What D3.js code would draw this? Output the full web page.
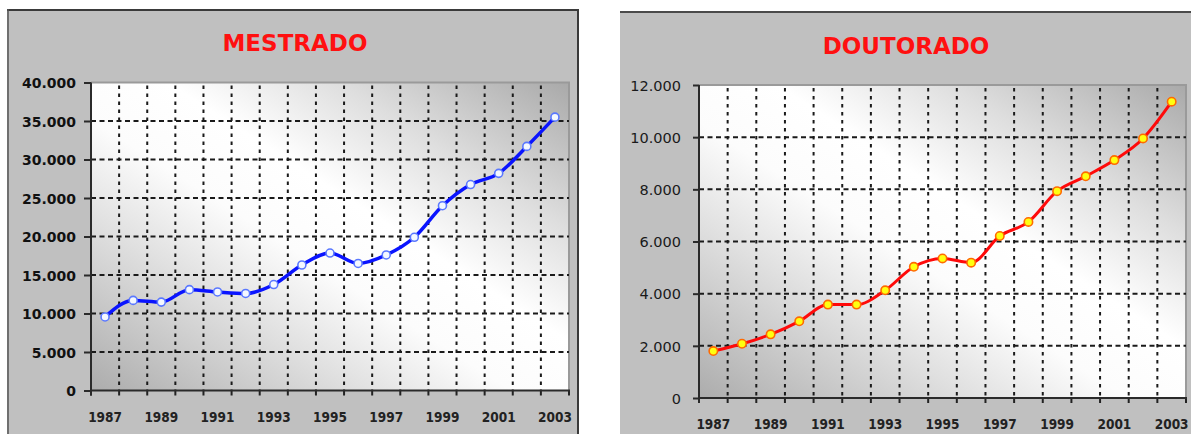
<!DOCTYPE html>
<html>
<head>
<meta charset="utf-8">
<script src="https://cdn.jsdelivr.net/npm/d3@7"></script>
<style>
  html, body { margin: 0; padding: 0; background: #ffffff; }
  svg { display: block; }
</style>
</head>
<body>
<svg id="chart" width="1191" height="434"></svg>
<script>
// ---- data ----
const years = [1987, 1988, 1989, 1990, 1991, 1992, 1993, 1994, 1995, 1996, 1997, 1998, 1999, 2000, 2001, 2002, 2003];
const yearTickLabels = [1987, 1989, 1991, 1993, 1995, 1997, 1999, 2001, 2003];
const mestradoValues = [9550, 11700, 11480, 13100, 12800, 12600, 13760, 16300, 17850, 16500, 17600, 19900, 24000, 26750, 28200, 31700, 35500];
const doutoradoValues = [1800, 2080, 2440, 2940, 3580, 3580, 4130, 5030, 5350, 5190, 6210, 6750, 7930, 8500, 9120, 9950, 11360];
const mestradoTicks = [0, 5000, 10000, 15000, 20000, 25000, 30000, 35000, 40000];
const doutoradoTicks = [0, 2000, 4000, 6000, 8000, 10000, 12000];
const titles = ["MESTRADO", "DOUTORADO"];

// ---- rendering ----
const ptBR = d3.formatLocale({ decimal: ",", thousands: ".", grouping: [3], currency: ["", ""] });
const fmt = ptBR.format(",");

const svg = d3.select("#chart");
const defs = svg.append("defs");

// panels
svg.append("rect").attr("x", 7).attr("y", 9).attr("width", 572).attr("height", 430).attr("fill", "#c0c0c0");
svg.append("line").attr("x1", 7).attr("x2", 579).attr("y1", 10).attr("y2", 10).attr("stroke", "#3a3a3a").attr("stroke-width", 2);
svg.append("line").attr("x1", 8).attr("x2", 8).attr("y1", 9).attr("y2", 434).attr("stroke", "#555").attr("stroke-width", 1.5);
svg.append("line").attr("x1", 578).attr("x2", 578).attr("y1", 9).attr("y2", 434).attr("stroke", "#3a3a3a").attr("stroke-width", 2);

svg.append("rect").attr("x", 620).attr("y", 11).attr("width", 571).attr("height", 423).attr("fill", "#c0c0c0");
svg.append("line").attr("x1", 620).attr("x2", 1191).attr("y1", 12).attr("y2", 12).attr("stroke", "#4a4a4a").attr("stroke-width", 2);

function drawChart(cfg) {
  const g = svg.append("g");
  const x = d3.scaleBand().domain(cfg.years).range([cfg.left, cfg.right]);
  const y = d3.scaleLinear().domain([0, d3.max(cfg.ticks)]).range([cfg.bottom, cfg.top]);

  // gradient background
  const gid = "grad" + cfg.id;
  const grad = defs.append("linearGradient").attr("id", gid)
    .attr("x1", 0).attr("y1", 1).attr("x2", 1).attr("y2", 0);
  [[0, "#acacac"], [0.28, "#e0e0e0"], [0.44, "#fcfcfc"], [0.58, "#ffffff"], [0.76, "#dedede"], [1, "#a9a9a9"]]
    .forEach(s => grad.append("stop").attr("offset", s[0]).attr("stop-color", s[1]));
  g.append("rect").attr("x", cfg.left).attr("y", cfg.top)
    .attr("width", cfg.right - cfg.left).attr("height", cfg.bottom - cfg.top)
    .attr("fill", `url(#${gid})`);

  // plot border (top, right)
  g.append("path")
    .attr("d", `M${cfg.left},${cfg.top}H${cfg.right}V${cfg.bottom}`)
    .attr("fill", "none").attr("stroke", "#9a9a9a").attr("stroke-width", 2);

  // horizontal dashed grid
  g.selectAll(".hg").data(cfg.ticks.filter(t => t > 0 && t < d3.max(cfg.ticks))).join("line")
    .attr("x1", cfg.left).attr("x2", cfg.right)
    .attr("y1", d => y(d)).attr("y2", d => y(d))
    .attr("stroke", "#1a1a1a").attr("stroke-width", 2).attr("stroke-dasharray", "5,3.5");

  // vertical dashed grid at category boundaries
  const bounds = cfg.years.slice(1).map(d => x(d));
  g.selectAll(".vg").data(bounds).join("line")
    .attr("x1", d => d).attr("x2", d => d)
    .attr("y1", cfg.top + 3).attr("y2", cfg.bottom)
    .attr("stroke", "#1a1a1a").attr("stroke-width", 2).attr("stroke-dasharray", "3.5,4.5");

  // x axis ticks below axis
  g.selectAll(".xt").data(cfg.years.map(d => x(d)).concat([cfg.right])).join("line")
    .attr("x1", d => d).attr("x2", d => d)
    .attr("y1", cfg.bottom).attr("y2", cfg.bottom + 5)
    .attr("stroke", "#222").attr("stroke-width", 2);

  // axes lines
  g.append("line").attr("x1", cfg.left).attr("x2", cfg.right + 1)
    .attr("y1", cfg.bottom).attr("y2", cfg.bottom)
    .attr("stroke", "#2a2a2a").attr("stroke-width", 2);
  g.append("line").attr("x1", cfg.left).attr("x2", cfg.left)
    .attr("y1", cfg.top).attr("y2", cfg.bottom + 5)
    .attr("stroke", "#2a2a2a").attr("stroke-width", 2);

  // y axis ticks + labels
  const yAxis = d3.axisLeft(y).tickValues(cfg.ticks).tickFormat(fmt)
    .tickSize(cfg.tickLen).tickPadding(cfg.tickPad);
  const ya = g.append("g").attr("transform", `translate(${cfg.left},0)`).call(yAxis);
  ya.select(".domain").remove();
  ya.selectAll(".tick line").attr("stroke", "#2a2a2a").attr("stroke-width", 2);
  ya.selectAll(".tick text")
    .attr("font-family", "DejaVu Sans, Verdana, sans-serif")
    .attr("font-size", cfg.yFontSize).attr("font-weight", cfg.yFontWeight)
    .attr("fill", cfg.yColor).attr("dy", "0.36em");

  // x labels
  const xAxis = d3.axisBottom(x).tickValues(yearTickLabels).tickSize(0).tickPadding(cfg.xPad);
  const xa = g.append("g").attr("transform", `translate(0,${cfg.bottom})`).call(xAxis);
  xa.select(".domain").remove();
  xa.selectAll(".tick text")
    .attr("font-family", "Liberation Sans Narrow, Arial Narrow, DejaVu Sans Condensed, sans-serif")
    .attr("font-size", 13.5).attr("font-weight", "bold").attr("fill", "#222");

  // line
  const cx = d => x(d) + x.bandwidth() / 2;
  const line = d3.line().x((d, i) => cx(cfg.years[i])).y(d => y(d)).curve(d3.curveMonotoneX);
  g.append("path").datum(cfg.values).attr("d", line)
    .attr("fill", "none").attr("stroke", cfg.lineColor).attr("stroke-width", cfg.lineWidth)
    .attr("stroke-linejoin", "round");

  // markers
  g.selectAll(".mk").data(cfg.values).join("circle")
    .attr("cx", (d, i) => cx(cfg.years[i])).attr("cy", d => y(d)).attr("r", cfg.markerR)
    .attr("fill", cfg.markerFill).attr("stroke", cfg.markerStroke).attr("stroke-width", 1.6);

  // title
  svg.append("text").attr("x", cfg.titleX).attr("y", cfg.titleY).attr("text-anchor", "middle")
    .attr("font-family", "DejaVu Sans, Verdana, sans-serif").attr("font-weight", "bold")
    .attr("font-size", 23).attr("fill", "#ff1010").text(cfg.title);
}

drawChart({
  id: "m", title: titles[0], years: years, values: mestradoValues, ticks: mestradoTicks,
  left: 91, right: 569, top: 82.5, bottom: 390.5,
  tickLen: 7, tickPad: 8, yFontSize: 14, yFontWeight: "bold", yColor: "#111", xPad: 22,
  lineColor: "#0a14ff", lineWidth: 3.5, markerR: 4, markerFill: "#f4f8ff", markerStroke: "#5a78ff",
  titleX: 295, titleY: 51
});

drawChart({
  id: "d", title: titles[1], years: years, values: doutoradoValues, ticks: doutoradoTicks,
  left: 699, right: 1186, top: 85, bottom: 398,
  tickLen: 6, tickPad: 12, yFontSize: 14.5, yFontWeight: "normal", yColor: "#1a1a1a", xPad: 21,
  lineColor: "#ff0a0a", lineWidth: 3, markerR: 4.2, markerFill: "#ffff10", markerStroke: "#ff6a00",
  titleX: 906, titleY: 54
});
</script>
</body>
</html>
